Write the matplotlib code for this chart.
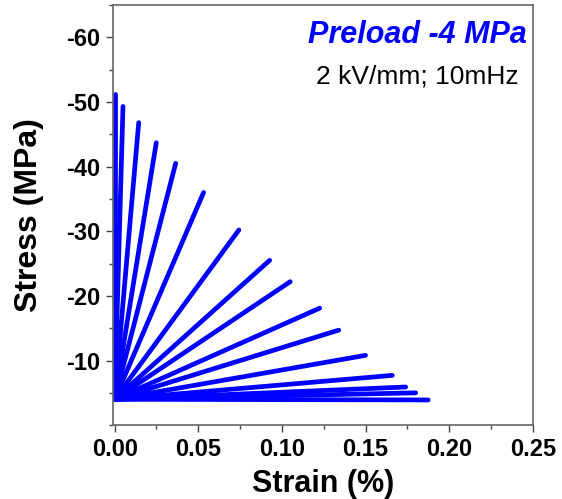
import matplotlib
matplotlib.use("Agg")
import matplotlib.pyplot as plt
from matplotlib.ticker import MultipleLocator

plt.rcParams['font.family'] = ['Liberation Sans', 'DejaVu Sans']
plt.rcParams['axes.unicode_minus'] = False

# loop tips for each field cycle (strain %, stress MPa), all starting at the preload
preload = -4.0
strain_end = [0.000, 0.005, 0.0144, 0.0249, 0.0365, 0.0532, 0.0743, 0.0927,
              0.105, 0.1226, 0.134, 0.150, 0.166, 0.174, 0.180, 0.1875]
stress_end = [-51.2, -49.3, -46.8, -43.7, -40.5, -36.0, -30.2, -25.5,
              -22.2, -18.1, -14.7, -10.8, -7.7, -5.9, -5.0, -3.9]

fig = plt.figure(figsize=(5.62, 4.99), dpi=100)
ax = fig.add_axes([0.201, 0.148, 0.747, 0.842])

for xe, ye in zip(strain_end, stress_end):
    ax.plot([0.0, xe], [preload, ye], color='#0000ff', lw=3.4,
            solid_capstyle='round')

ax.set_xlim(-0.001, 0.25)
ax.set_ylim(0, -65)
ax.xaxis.set_major_locator(MultipleLocator(0.05))
ax.xaxis.set_minor_locator(MultipleLocator(0.025))
ax.set_yticks([-60, -50, -40, -30, -20, -10])
ax.yaxis.set_minor_locator(MultipleLocator(5))
ax.xaxis.set_major_formatter(plt.FormatStrFormatter('%.2f'))

ax.tick_params(which='major', direction='out', length=5, width=1,
               labelsize=17, color='#444444', pad=4)
ax.tick_params(which='minor', direction='out', length=3, width=1,
               color='#444444')
for lab in ax.get_xticklabels() + ax.get_yticklabels():
    lab.set_fontweight('bold')
for s in ax.spines.values():
    s.set_color('#666666')
    s.set_linewidth(1.2)

ax.set_xlabel('Strain (%)', fontsize=22, fontweight='bold', labelpad=6)
ax.set_ylabel('Stress (MPa)', fontsize=23, fontweight='bold', labelpad=16)

ax.text(0.986, 0.909, 'Preload -4 MPa', transform=ax.transAxes, ha='right',
        va='baseline', fontsize=22, fontweight='bold', fontstyle='italic',
        color='#0000ff')
ax.text(0.967, 0.814, '2 kV/mm; 10mHz', transform=ax.transAxes, ha='right',
        va='baseline', fontsize=19, color='black')

fig.savefig('out.png', dpi=100)
